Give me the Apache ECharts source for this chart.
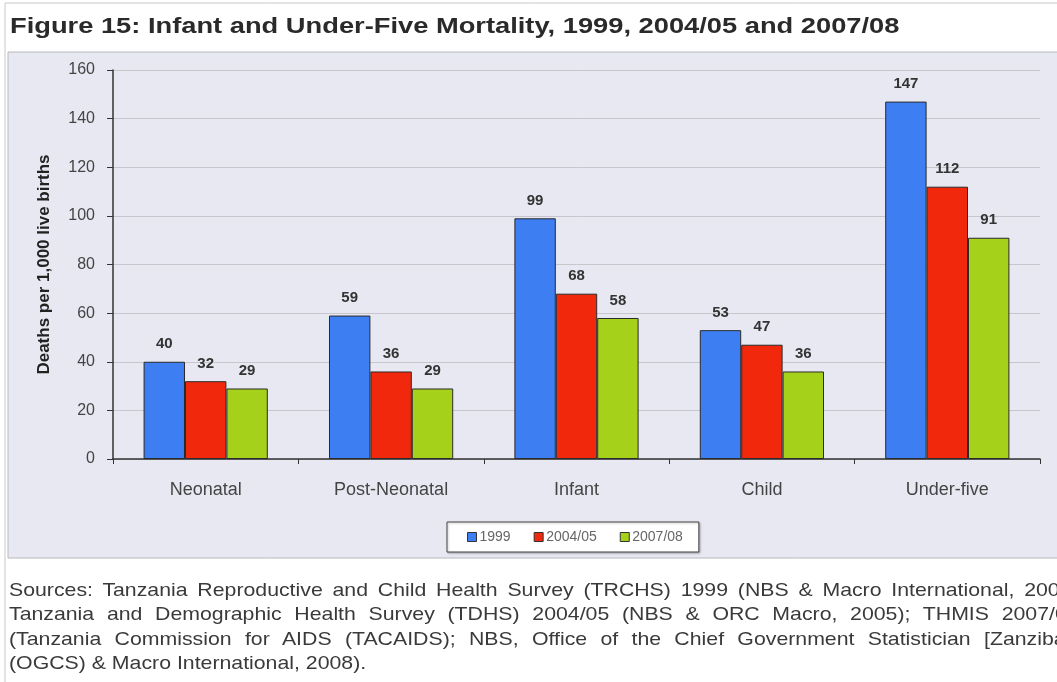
<!DOCTYPE html>
<html>
<head>
<meta charset="utf-8">
<script src="https://cdn.jsdelivr.net/npm/echarts@6/dist/echarts.min.js"></script>
<style>
  html, body { margin: 0; padding: 0; background: #fff; }
  #wrap { position: relative; width: 1057px; height: 682px; overflow: hidden; }
  #chart { position: absolute; left: 0; top: 0; width: 1057px; height: 682px; }
  .src {
    position: absolute;
    left: 9px;
    width: 955px;
    font-family: "Liberation Sans", Arial, sans-serif;
    font-size: 19px;
    line-height: 22px;
    color: #3a3a3a;
    white-space: nowrap;
    text-align: justify;
    text-align-last: justify;
    transform: scaleX(1.12);
    transform-origin: 0 0;
  }
  .src.last { text-align-last: left; }
</style>
</head>
<body>
<div id="wrap">
  <div id="chart"></div>
  <div class="src" style="top:579px">Sources: Tanzania Reproductive and Child Health Survey (TRCHS) 1999 (NBS &amp; Macro International, 2000)</div>
  <div class="src" style="top:603px">Tanzania and Demographic Health Survey (TDHS) 2004/05 (NBS &amp; ORC Macro, 2005); THMIS 2007/08</div>
  <div class="src" style="top:628px">(Tanzania Commission for AIDS (TACAIDS); NBS, Office of the Chief Government Statistician [Zanzibar]</div>
  <div class="src last" style="top:652px">(OGCS) &amp; Macro International, 2008).</div>
</div>
<script>
var categories = ["Neonatal", "Post-Neonatal", "Infant", "Child", "Under-five"];
var seriesNames = ["1999", "2004/05", "2007/08"];
var values1999 = [40, 59, 99, 53, 147];
var values2004 = [32, 36, 68, 47, 112];
var values2007 = [29, 29, 58, 36, 91];
var colors = ["#3d7ef2", "#f2280c", "#a6d11a"];

var chart = echarts.init(document.getElementById("chart"));
var FONT = "Liberation Sans, Arial, sans-serif";

function makeSeries(name, data, color) {
  return {
    name: name,
    type: "bar",
    data: data,
    barGap: "0%",
    barCategoryGap: "33%",
    itemStyle: {
      color: color,
      borderColor: "#2a2a2a",
      borderWidth: 1
    },
    label: {
      show: true,
      position: "top",
      distance: 10,
      color: "#333",
      fontWeight: "bold",
      fontSize: 15,
      fontFamily: FONT
    }
  };
}

var option = {
  animation: false,
  backgroundColor: "#fff",
  graphic: [
    {
      type: "rect",
      z: -10,
      shape: { x: 8, y: 52, width: 1060, height: 506 },
      style: { fill: "#e8e8f2", stroke: "#b8b8c0", lineWidth: 1 }
    },
    {
      type: "rect",
      z: -11,
      shape: { x: 5, y: 3, width: 1060, height: 700 },
      style: { fill: "none", stroke: "#c8c8c8", lineWidth: 1 }
    },
    {
      type: "text",
      x: 10,
      y: 16,
      scaleX: 1.24,
      style: {
        text: "Figure 15: Infant and Under-Five Mortality, 1999, 2004/05 and 2007/08",
        font: "bold 22px " + FONT,
        fill: "#2a2a2a"
      }
    }
  ],
  color: colors,
  legend: {
    data: seriesNames,
    left: 447,
    top: 522,
    padding: [8, 16, 8, 20],
    backgroundColor: "#fff",
    borderColor: "#444",
    borderWidth: 1,
    itemWidth: 9,
    itemHeight: 9,
    itemGap: 23,
    icon: "rect",
    itemStyle: { borderColor: "#333", borderWidth: 1 },
    textStyle: {
      fontFamily: FONT,
      fontSize: 14,
      color: "#666",
      padding: [0, 0, 0, -2]
    },
    shadowColor: "rgba(0,0,0,0.25)",
    shadowOffsetX: 1,
    shadowOffsetY: 1,
    shadowBlur: 2
  },
  grid: {
    left: 113,
    right: 17,
    top: 70,
    bottom: 223
  },
  xAxis: {
    type: "category",
    data: categories,
    axisLine: { lineStyle: { color: "#333", width: 1.5 } },
    axisTick: { show: true, length: 5, lineStyle: { color: "#333" } },
    axisLabel: {
      margin: 22,
      color: "#444",
      fontSize: 18,
      fontFamily: FONT
    }
  },
  yAxis: {
    type: "value",
    min: 0,
    max: 160,
    interval: 20,
    name: "Deaths per 1,000 live births",
    nameLocation: "middle",
    nameGap: 60,
    nameTextStyle: {
      fontFamily: FONT,
      fontWeight: "bold",
      fontSize: 17,
      color: "#222"
    },
    axisLine: { show: true, lineStyle: { color: "#333", width: 1.5 } },
    axisTick: { show: true, length: 6, lineStyle: { color: "#333" } },
    axisLabel: {
      margin: 18,
      color: "#444",
      fontSize: 16,
      fontFamily: FONT
    },
    splitLine: { lineStyle: { color: "#c6c6cc", width: 1 } }
  },
  series: [
    makeSeries(seriesNames[0], values1999, colors[0]),
    makeSeries(seriesNames[1], values2004, colors[1]),
    makeSeries(seriesNames[2], values2007, colors[2])
  ]
};

chart.setOption(option);
</script>
</body>
</html>
